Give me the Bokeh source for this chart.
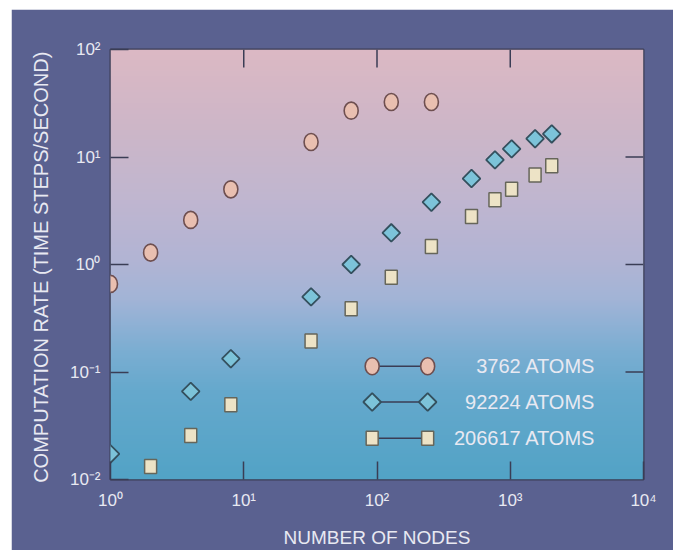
import numpy as np
from bokeh.plotting import figure
from bokeh.layouts import row, column
from bokeh.models import FixedTicker, CustomJSTickFormatter, Range1d, LinearScale, Spacer
from bokeh.core.properties import value
from bokeh.embed import file_html
from bokeh.resources import INLINE

# ---- data ----
nodes_3762 = [1, 2, 4, 8, 32, 64, 128, 256]
rate_3762 = [0.66, 1.29, 2.6, 5.0, 13.8, 27.0, 32.5, 32.5]
nodes_92224 = [1, 4, 8, 32, 64, 128, 256, 512, 768, 1024, 1536, 2048]
rate_92224 = [0.0173, 0.066, 0.133, 0.50, 1.0, 1.97, 3.8, 6.3, 9.4, 11.9, 14.8, 16.4]
nodes_206617 = [2, 4, 8, 32, 64, 128, 256, 512, 768, 1024, 1536, 2048]
rate_206617 = [0.0132, 0.0257, 0.0495, 0.194, 0.387, 0.76, 1.47, 2.8, 4.0, 5.0, 6.8, 8.3]
series_labels = ["3762 ATOMS", "92224 ATOMS", "206617 ATOMS"]
x_ticks = [1, 10, 100, 1000, 10000]
y_ticks = [0.01, 0.1, 1, 10, 100]
x_title = "NUMBER OF NODES"
y_title = "COMPUTATION RATE  (TIME STEPS/SECOND)"

# ---- layout / style constants ----
PANEL = "#5a6190"
TEXT = "#e8e9f2"
EDGE = "#3a3d55"
FONT = "Liberation Sans"
FW, FH = 533, 430          # frame size in px
TICK = 18                  # inward tick length in px
legend_x_left, legend_x_right, legend_text_x = 92, 240, 4365
legend_rows = [0.113, 0.0526, 0.0242]

p = figure(frame_width=FW, frame_height=FH, x_axis_type="log", y_axis_type="log",
           x_range=Range1d(x_ticks[0], x_ticks[-1]), y_range=Range1d(y_ticks[0], y_ticks[-1]),
           output_backend="svg", toolbar_location=None,
           min_border_left=99, min_border_right=30,
           min_border_top=40, min_border_bottom=71)
p.border_fill_color = PANEL
p.background_fill_color = "#b4b4d4"
p.outline_line_color = EDGE
p.outline_line_width = 2
p.grid.visible = False

# pixel-space ranges for the inward ticks on the top and right edges
p.extra_x_ranges = {"px": Range1d(0, FW)}
p.extra_y_ranges = {"py": Range1d(0, FH)}
p.extra_x_scales = {"px": LinearScale()}
p.extra_y_scales = {"py": LinearScale()}

# vertical gradient background
H, W = 430, 4
stops = [0, 80, 150, 210, 250, 275, 300, 340, 430]
cols = [(220, 185, 196), (205, 182, 200), (192, 182, 208), (178, 180, 212),
        (162, 180, 215), (143, 177, 213), (124, 174, 210), (102, 169, 205),
        (82, 163, 198)]
ys = np.arange(H)
img = np.empty((H, W), dtype=np.uint32)
view = img.view(dtype=np.uint8).reshape((H, W, 4))
for k in range(3):
    ch = np.interp(ys, stops, [c[k] for c in cols])[::-1]
    view[:, :, k] = ch[:, None].astype(np.uint8)
view[:, :, 3] = 255
p.image_rgba(image=[img], x=x_ticks[0], y=y_ticks[0],
             dw=x_ticks[-1] - x_ticks[0], dh=y_ticks[-1] - y_ticks[0])

fmt = CustomJSTickFormatter(code="""
const sup = {"0":"\u2070","1":"\u00b9","2":"\u00b2","3":"\u00b3","4":"\u2074","-":"\u207b"};
const e = Math.round(Math.log10(tick));
return "10" + String(e).split("").map(c => sup[c]).join("");
""")

for ax, ticks in [(p.xaxis[0], x_ticks), (p.yaxis[0], y_ticks)]:
    ax.ticker = FixedTicker(ticks=ticks)
    ax.formatter = fmt
    ax.axis_line_color = None
    ax.major_tick_in = TICK
    ax.major_tick_out = 0
    ax.major_tick_line_color = EDGE
    ax.major_tick_line_width = 1.5
    ax.minor_tick_line_color = None
    ax.major_label_text_color = TEXT
    ax.major_label_text_font = FONT
    ax.major_label_text_font_size = "17px"
    ax.axis_label_text_color = TEXT
    ax.axis_label_text_font = FONT
    ax.axis_label_text_font_style = "normal"

p.xaxis[0].axis_label_text_font_size = "19px"
p.yaxis[0].axis_label_text_font_size = "20px"
p.xaxis[0].axis_label = x_title
p.yaxis[0].axis_label = y_title
p.xaxis[0].major_label_standoff = 11
p.xaxis[0].axis_label_standoff = 14
p.yaxis[0].major_label_standoff = 10
p.yaxis[0].axis_label_standoff = 15

# inward ticks on top and right edges
inner_x = x_ticks[1:-1]
inner_y = y_ticks[1:-1]
p.segment(x0=inner_x, x1=inner_x, y0=[FH] * len(inner_x), y1=[FH - TICK] * len(inner_x),
          y_range_name="py", line_color=EDGE, line_width=1.5)
p.segment(x0=[FW] * len(inner_y), x1=[FW - TICK] * len(inner_y), y0=inner_y, y1=inner_y,
          x_range_name="px", line_color=EDGE, line_width=1.5)

# ---- series ----
CIRC_FILL, CIRC_LINE = "#e9bfb0", "#6e4f50"
DIA_FILL, DIA_LINE = "#7cc3d9", "#34505e"
SQ_FILL, SQ_LINE = "#ede3c6", "#66665a"

def circles(x, y):
    p.ellipse(x=x, y=y, width=14, height=17, width_units="screen", height_units="screen",
              fill_color=CIRC_FILL, line_color=CIRC_LINE, line_width=1.6)

def diamonds(x, y):
    p.scatter(x=x, y=y, marker="square", size=12.5, angle=np.pi / 4,
              fill_color=DIA_FILL, line_color=DIA_LINE, line_width=1.8)

def squares(x, y):
    p.rect(x=x, y=y, width=12, height=14, width_units="screen", height_units="screen",
           fill_color=SQ_FILL, line_color=SQ_LINE, line_width=1.5)

circles(nodes_3762, rate_3762)
diamonds(nodes_92224, rate_92224)
squares(nodes_206617, rate_206617)

# ---- legend (drawn by hand) ----
p.segment(x0=[legend_x_left] * 3, x1=[legend_x_right] * 3, y0=legend_rows, y1=legend_rows,
          line_color=EDGE, line_width=1.5)
circles([legend_x_left, legend_x_right], [legend_rows[0]] * 2)
diamonds([legend_x_left, legend_x_right], [legend_rows[1]] * 2)
squares([legend_x_left, legend_x_right], [legend_rows[2]] * 2)
p.text(x=[legend_text_x] * 3, y=legend_rows, text=series_labels,
       text_align="right", text_baseline="middle", text_color=TEXT,
       text_font=value(FONT), text_font_size="20px")

layout = row(Spacer(width=11), column(Spacer(height=9), p))
open("out.html", "w").write(file_html(layout, INLINE))
